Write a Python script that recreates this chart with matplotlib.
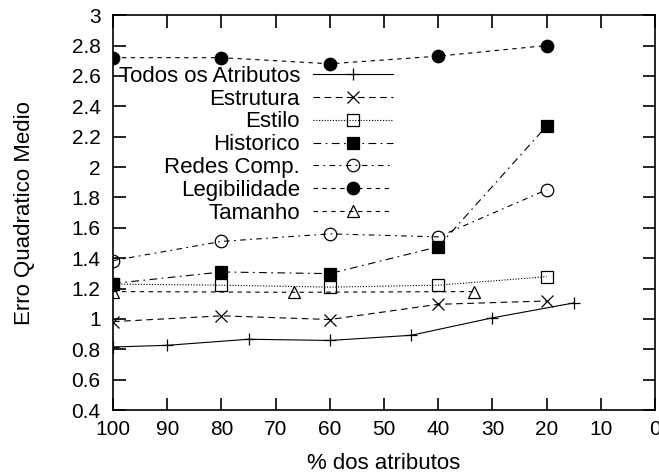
import matplotlib
matplotlib.use('Agg')
import matplotlib.pyplot as plt

plt.rcParams['font.family'] = ['Liberation Sans', 'DejaVu Sans']

# data
x5 = [100, 80, 60, 40, 20]
x_todos = [100, 90, 75, 60, 45, 30, 15]
x_tam = [100, 66.67, 33.33]

todos = [0.815, 0.826, 0.866, 0.858, 0.892, 1.007, 1.105]
estrutura = [0.982, 1.02, 0.996, 1.096, 1.118]
estilo = [1.229, 1.222, 1.209, 1.222, 1.278]
historico = [1.233, 1.309, 1.298, 1.475, 2.27]
redes = [1.384, 1.51, 1.56, 1.54, 1.85]
legib = [2.72, 2.72, 2.68, 2.73, 2.80]
tamanho = [1.18, 1.175, 1.18]

series = [
    ('Todos os Atributos', x_todos, todos, '-', '+', 'none'),
    ('Estrutura', x5, estrutura, (0, (6, 4)), 'x', 'none'),
    ('Estilo', x5, estilo, (0, (1, 1.5)), 's', 'none'),
    ('Historico', x5, historico, (0, (7, 4, 1.5, 4)), 's', 'black'),
    ('Redes Comp.', x5, redes, (0, (5, 4, 1.5, 4)), 'o', 'none'),
    ('Legibilidade', x5, legib, (0, (4, 4)), 'o', 'black'),
    ('Tamanho', x_tam, tamanho, (0, (4, 4)), '^', 'none'),
]

fig = plt.figure(figsize=(6.59, 4.74), dpi=100)
ax = fig.add_axes([0.1715, 0.135, 0.8225, 0.833])

for name, xs, ys, ls, mk, fc in series:
    ax.plot(xs, ys, linestyle=ls, color='black', linewidth=0.8,
            marker=mk, markersize=9, markerfacecolor=fc,
            markeredgecolor='black', markeredgewidth=0.9, label=name)

ax.set_xlim(100, 0)
ax.set_ylim(0.4, 3)
ax.set_xticks(range(100, -1, -10))
ax.set_yticks([0.4 + 0.2 * i for i in range(14)])
ax.set_yticklabels(['0.4', '0.6', '0.8', '1', '1.2', '1.4', '1.6', '1.8',
                    '2', '2.2', '2.4', '2.6', '2.8', '3'])
ax.tick_params(direction='in', length=9, width=1.2, top=True, right=True,
               labelsize=15, pad=9)
ax.tick_params(axis='x', pad=7)
for s in ax.spines.values():
    s.set_linewidth(1.2)

ax.set_xlabel('% dos atributos', fontsize=16, labelpad=10)
ax.set_ylabel('Erro Quadratico Medio', fontsize=16, labelpad=26)

ax.legend(loc='upper right', bbox_to_anchor=(0.517, 0.872), frameon=False,
          markerfirst=False, numpoints=1, fontsize=16, handlelength=3.6,
          handletextpad=0.6, labelspacing=0.085, borderpad=0, borderaxespad=0)

fig.savefig('out.png', dpi=100)
